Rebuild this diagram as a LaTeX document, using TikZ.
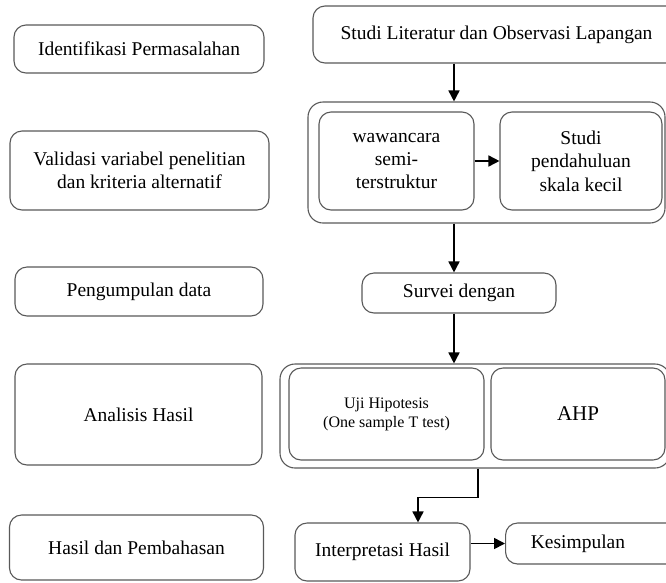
\documentclass[tikz,border=0pt]{standalone}
\usepackage{fontspec}
\setmainfont{Liberation Serif}
\usetikzlibrary{arrows.meta,calc}
\begin{document}
\begin{tikzpicture}[x=1pt,y=-1pt,
  box/.style={draw=black!65, line width=1.1pt, rounded corners=12pt, fill=white,
    align=center, inner sep=0pt, font=\fontsize{19.5}{23.4}\selectfont},
  cont/.style={draw=black!65, line width=1.1pt, rounded corners=15pt, inner sep=0pt},
  arr/.style={line width=1.6pt, draw=black, -{Triangle[width=11pt,length=11pt]}},
  lbl/.style={inner sep=0pt, align=center, font=\fontsize{19.5}{23.4}\selectfont}]
\useasboundingbox (0,0) rectangle (666,582);
% left column
\node[box, minimum width=250, minimum height=48] (idp) at (139,49) {Identifikasi Permasalahan};
\node[box, minimum width=259, minimum height=79] (val) at (139.5,170.5) {Validasi variabel penelitian\\dan kriteria alternatif};
\node[box, minimum width=248, minimum height=49] (peng) at (139,291.5) {Pengumpulan data};
\node[box, minimum width=247, minimum height=101] (anal) at (138.5,414.5) {Analisis Hasil};
\node[box, minimum width=254, minimum height=65] (hdp) at (136.5,547.5) {Hasil dan Pembahasan};
% right column
\node[box, minimum width=367, minimum height=57] (lit) at (496.5,34.5) {Studi Literatur dan Observasi Lapangan};
\node[cont, minimum width=357, minimum height=121] (o1) at (486.5,162.5) {};
\node[box, minimum width=155, minimum height=98] (waw) at (396.5,161) {wawancara\\semi-\\terstruktur};
\node[box, minimum width=162, minimum height=98] (stu) at (581,161) {Studi\\pendahuluan\\skala kecil};
\node[box, minimum width=194, minimum height=40] (sur) at (459,293) {Survei dengan};
\node[cont, minimum width=390, minimum height=104] (o2) at (475,416) {};
\node[box, minimum width=195, minimum height=92, font=\fontsize{16}{19}\selectfont] (uji) at (386.5,414) {Uji Hipotesis\\(One sample T test)};
\node[box, minimum width=174, minimum height=92, font=\fontsize{21}{25}\selectfont] (ahp) at (578,414) {AHP};
\node[box, minimum width=175, minimum height=58] (intp) at (382.5,552) {Interpretasi Hasil};
\node[box, minimum width=190, minimum height=41, anchor=west] (kes) at (505,543.5) {};
\node[lbl] (kest) at (578,543.5) {Kesimpulan};
% connectors
\coordinate (a1) at (454,0);
\coordinate (a2) at (478,0);
\coordinate (a3) at (418,0);
\draw[arr] (lit.south -| a1) -- (o1.north -| a1);
\draw[arr] (waw.east) -- (stu.west);
\draw[arr] (o1.south -| a1) -- (sur.north -| a1);
\draw[arr] (sur.south -| a1) -- (o2.north -| a1);
\draw[arr] (o2.south -| a2) -- ++(0,29) -| (intp.north -| a3);
\draw[arr] (intp.east |- kes.west) -- (kes.west);
\end{tikzpicture}
\end{document}
